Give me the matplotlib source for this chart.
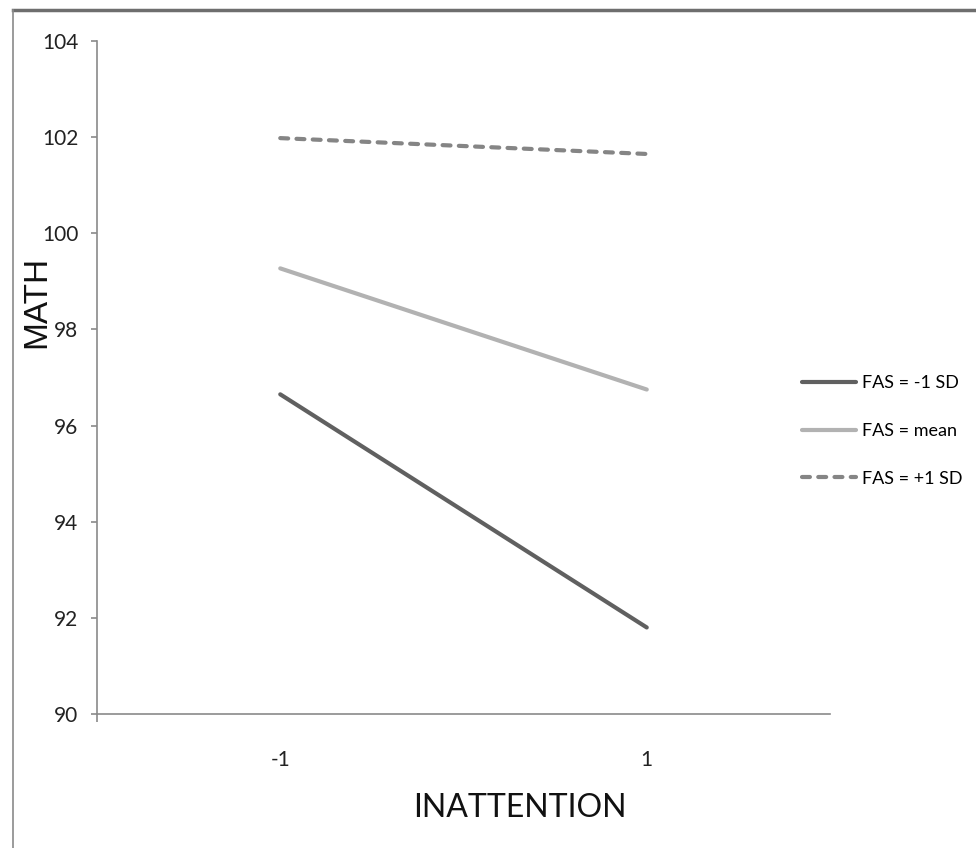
import matplotlib
matplotlib.use('Agg')
import matplotlib.pyplot as plt
from matplotlib.lines import Line2D

# data
categories = ['-1', '1']
low_fas = [96.65, 91.8]
mean_fas = [99.27, 96.75]
high_fas = [101.98, 101.65]
labels = ['FAS = -1 SD', 'FAS = mean', 'FAS = +1 SD']
yticks = [90, 92, 94, 96, 98, 100, 102, 104]

plt.rcParams['font.family'] = ['Lato', 'DejaVu Sans']

W, H = 976, 848
fig = plt.figure(figsize=(W / 100, H / 100), dpi=100)
ax = fig.add_axes([97 / W, 1 - 714 / H, (830 - 97) / W, (714 - 41) / H])

x = list(range(len(categories)))
ax.plot(x, low_fas, color='#606060', lw=3, solid_capstyle='round', label=labels[0])
ax.plot(x, mean_fas, color='#b2b2b2', lw=3, solid_capstyle='round', label=labels[1])
ax.plot(x, high_fas, color='#858585', lw=3, dashes=(1.9, 2.0),
        dash_capstyle='round', label=labels[2])

ax.set_xlim(-0.5, len(categories) - 0.5)
ax.set_ylim(90, 104)
ax.set_yticks(yticks)
ax.set_yticklabels([str(v) for v in yticks], fontsize=15, color='#222222')
ax.set_xticks(x)
ax.set_xticklabels(categories, fontsize=15, color='#222222')
ax.set_xticks([-0.5], minor=True)

for s in ['top', 'right']:
    ax.spines[s].set_visible(False)
for s in ['left', 'bottom']:
    ax.spines[s].set_color('#8a8a8a')
    ax.spines[s].set_linewidth(1.2)
ax.tick_params(axis='y', direction='out', length=4.5, width=1.2, color='#8a8a8a', pad=9)
ax.tick_params(axis='x', which='major', length=0, pad=26)
ax.tick_params(axis='x', which='minor', direction='out', length=6, width=1.2, color='#8a8a8a')

# Excel put the axis title off-centre, nearer the "1" category
ax.set_xlabel('INATTENTION', fontsize=23, color='#111111')
ax.xaxis.set_label_coords((520 - 97) / 733, -0.118)
fig.text(37 / W, 1 - 302 / H, 'MATH', rotation=90, fontsize=24, ha='center', va='center',
         family=['Liberation Sans', 'DejaVu Sans'], color='#111111')

leg = ax.legend(loc='center left', bbox_to_anchor=(802 / W, 1 - 431 / H),
                bbox_transform=fig.transFigure, frameon=False, fontsize=13,
                handlelength=3.0, handletextpad=0.3, labelspacing=1.75,
                borderaxespad=0, borderpad=0)

# outer chart frame (top and left edges visible)
fig.add_artist(Line2D([13 / W, 1], [1 - 10 / H, 1 - 10 / H], transform=fig.transFigure,
                      color='#6e6e6e', lw=2.5))
fig.add_artist(Line2D([13 / W, 13 / W], [0, 1 - 10 / H], transform=fig.transFigure,
                      color='#8a8a8a', lw=1.2))

fig.savefig('out.png', dpi=100)
